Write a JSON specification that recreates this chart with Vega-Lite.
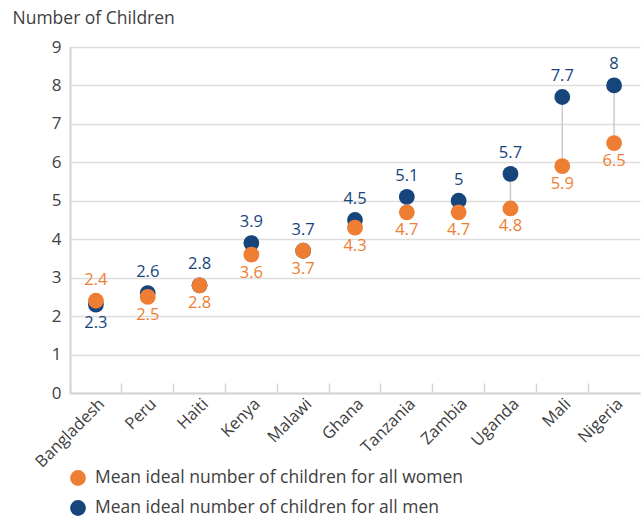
{
  "$schema": "https://vega.github.io/schema/vega-lite/v6.json",
  "width": 570,
  "height": 346,
  "autosize": "none",
  "padding": {"left": 70, "top": 47, "right": 4, "bottom": 126},
  "background": "white",
  "config": {
    "view": {"stroke": null},
    "font": "Open Sans",
    "axis": {"labelFont": "Open Sans", "titleFont": "Open Sans", "labelColor": "#404040", "titleColor": "#404040", "labelFontSize": 16.5, "titleFontSize": 17.5, "titleFontWeight": "normal"},
    "legend": {"labelFont": "Open Sans", "labelFontSize": 17.5, "labelColor": "#404040", "labelLimit": 0}
  },
  "data": {
    "values": [
      {"country": "Bangladesh", "women": 2.4, "men": 2.3},
      {"country": "Peru", "women": 2.5, "men": 2.6},
      {"country": "Haiti", "women": 2.8, "men": 2.8},
      {"country": "Kenya", "women": 3.6, "men": 3.9},
      {"country": "Malawi", "women": 3.7, "men": 3.7},
      {"country": "Ghana", "women": 4.3, "men": 4.5},
      {"country": "Tanzania", "women": 4.7, "men": 5.1},
      {"country": "Zambia", "women": 4.7, "men": 5.0},
      {"country": "Uganda", "women": 4.8, "men": 5.7},
      {"country": "Mali", "women": 5.9, "men": 7.7},
      {"country": "Nigeria", "women": 6.5, "men": 8.0}
    ]
  },
  "transform": [{"fold": ["men", "women"], "as": ["group", "value"]}],
  "encoding": {
    "x": {
      "field": "country", "type": "nominal", "sort": null,
      "scale": {"paddingInner": 0, "paddingOuter": 0},
      "axis": {"title": null, "labelAngle": -45, "labelAlign": "right", "labelBaseline": "middle", "bandPosition": 0, "tickSize": -10, "tickColor": "#d4d4d4", "tickWidth": 1.5, "domainColor": "#d4d4d4", "domainWidth": 2, "labelPadding": 18, "labelOffset": 6, "grid": false}
    },
    "y": {"field": "value", "type": "quantitative", "scale": {"domain": [0, 9], "nice": false},
      "axis": {"tickCount": 9, "tickMinStep": 1, "labelOverlap": false, "labelFontSize": 17, "title": "Number of Children", "titleAngle": 0, "titleAlign": "left", "titleBaseline": "middle", "titleX": -58, "titleY": -29, "ticks": false, "labelPadding": 9, "domainColor": "#d4d4d4", "domainWidth": 2, "gridColor": "#dddddd", "gridWidth": 1.5}}
  },
  "layer": [
    {
      "mark": {"type": "rule", "color": "#cccccc", "strokeWidth": 1.5},
      "encoding": {
        "y": {"aggregate": "min", "field": "value", "type": "quantitative"},
        "y2": {"aggregate": "max", "field": "value"}
      }
    },
    {
      "mark": {"type": "circle", "size": 250, "opacity": 1},
      "encoding": {
        "color": {"field": "group", "type": "nominal",
          "scale": {"domain": ["women", "men"], "range": ["#EE7E33", "#15457A"]},
          "legend": {"title": null, "orient": "none", "legendX": -1, "legendY": 422, "symbolType": "circle", "symbolSize": 250, "rowPadding": 12, "labelOffset": 8, "padding": 0, "labelLimit": 0,
            "labelExpr": "datum.label == 'women' ? 'Mean ideal number of children for all women' : 'Mean ideal number of children for all men'"}}
      }
    },
    {
      "transform": [
        {"filter": "(datum.group == 'men' && datum.men >= datum.women) || (datum.group == 'women' && datum.women > datum.men)"}
      ],
      "mark": {"type": "text", "fontSize": 16.5, "baseline": "middle", "dy": -21},
      "encoding": {
        "text": {"field": "value", "type": "quantitative"},
        "color": {"field": "group", "type": "nominal", "legend": null}
      }
    },
    {
      "transform": [
        {"filter": "!((datum.group == 'men' && datum.men >= datum.women) || (datum.group == 'women' && datum.women > datum.men))"}
      ],
      "mark": {"type": "text", "fontSize": 16.5, "baseline": "middle", "dy": 18},
      "encoding": {
        "text": {"field": "value", "type": "quantitative"},
        "color": {"field": "group", "type": "nominal", "legend": null}
      }
    }
  ]
}
